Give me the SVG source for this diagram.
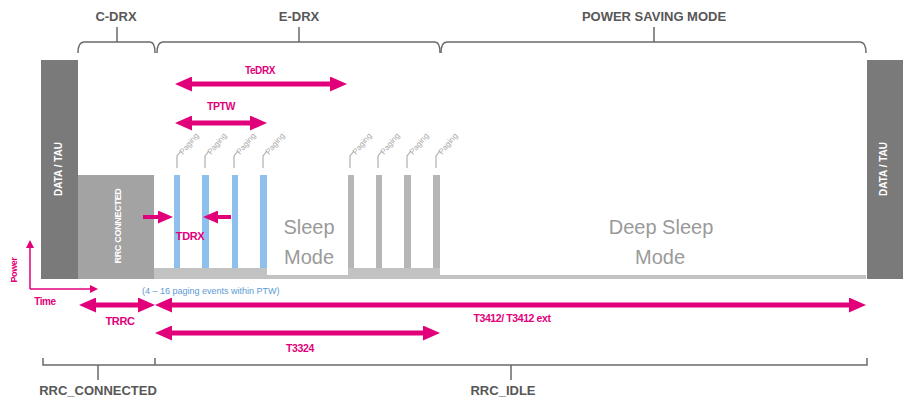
<svg xmlns="http://www.w3.org/2000/svg" width="912" height="412" viewBox="0 0 912 412">
<defs>
<style>
.hdr{font-family:"Liberation Sans",Arial,sans-serif;font-weight:bold;font-size:13px;fill:#575757;text-anchor:middle}
.brk{fill:none;stroke:#6a6a6a;stroke-width:1.5}
.mg{font-family:"Liberation Sans",Arial,sans-serif;font-weight:bold;fill:#e2007a;text-anchor:middle;letter-spacing:-0.4px}
.arr{stroke:#e2007a;stroke-width:5;fill:none;marker-end:url(#ah);marker-start:url(#ah)}
.arr1{stroke:#e2007a;stroke-width:4;fill:none;marker-end:url(#ah2)}
.bartxt{font-family:"Liberation Sans",Arial,sans-serif;font-weight:bold;fill:#ffffff;text-anchor:middle}
.pg{font-family:"Liberation Sans",Arial,sans-serif;font-size:8px;fill:#aaaaaa}
.ld{fill:none;stroke:#b0b0b0;stroke-width:1.2}
.mode{font-family:"Liberation Sans",Arial,sans-serif;font-size:20px;fill:#9a9a9a;text-anchor:middle}
</style>
<marker id="ah" viewBox="0 0 17 15" refX="7" refY="7.5" markerWidth="17" markerHeight="15" markerUnits="userSpaceOnUse" orient="auto-start-reverse">
<path d="M0,0 L17,7.5 L0,15 z" fill="#e2007a"/>
</marker>
<marker id="ah2" viewBox="0 0 15 13" refX="6" refY="6.5" markerWidth="15" markerHeight="13" markerUnits="userSpaceOnUse" orient="auto">
<path d="M0,0 L15,6.5 L0,13 z" fill="#e2007a"/>
</marker>
<marker id="ax" viewBox="0 0 8 8" refX="4" refY="4" markerWidth="8" markerHeight="8" markerUnits="userSpaceOnUse" orient="auto">
<path d="M0,0 L8,4 L0,8 z" fill="#e2007a"/>
</marker>
</defs>
<rect width="912" height="412" fill="#ffffff"/>

<!-- top brackets -->
<g id="phases">
<path class="brk" d="M78,53 Q78,42 84,42 H117 V27 M117,42 H150 Q155,42 155,53"/>
<path class="brk" d="M157,53 Q157,42 163,42 H299 V27 M299,42 H435 Q440,42 440,53"/>
<path class="brk" d="M441,53 Q441,42 447,42 H654 V27 M654,42 H860 Q866,42 866,53"/>
<text class="hdr" x="116" y="21">C-DRX</text>
<text class="hdr" x="299" y="21">E-DRX</text>
<text class="hdr" x="654" y="21">POWER SAVING MODE</text>
</g>

<!-- baseline -->
<g id="baseline">
<rect x="154" y="275" width="712" height="4" fill="#c2c2c2"/>
<rect x="154" y="268" width="113" height="11" fill="#c2c2c2"/>
<rect x="348" y="268" width="92" height="11" fill="#c2c2c2"/>
</g>

<g id="data-tau-left">
<rect x="41" y="60" width="37" height="219" fill="#7a7a7a"/>
<text class="bartxt" font-size="10" transform="translate(62,169) rotate(-90)">DATA / TAU</text>
</g>
<g id="rrc-connected">
<rect x="78" y="175" width="76" height="104" fill="#a3a3a3"/>
<text class="bartxt" font-size="9" letter-spacing="-0.3" transform="translate(121,226) rotate(-90)">RRC CONNECTED</text>
</g>
<g id="data-tau-right">
<rect x="867" y="60" width="36" height="219" fill="#7a7a7a"/>
<text class="bartxt" font-size="10" transform="translate(887,169) rotate(-90)">DATA / TAU</text>
</g>

<!-- paging bars -->
<g id="ptw-paging">
<rect x="174" y="175" width="6" height="93" fill="#8ec0ee"/>
<rect x="202" y="175" width="7" height="93" fill="#8ec0ee"/>
<rect x="232" y="175" width="6" height="93" fill="#8ec0ee"/>
<rect x="260" y="175" width="7" height="93" fill="#8ec0ee"/>
<path class="ld" d="M177,168 V156 L181,151 M205,168 V156 L209,151 M234,168 V156 L238,151 M263,168 V156 L267,151"/>
<text class="pg" transform="translate(183,155) rotate(-50)">Paging</text>
<text class="pg" transform="translate(211,155) rotate(-50)">Paging</text>
<text class="pg" transform="translate(240,155) rotate(-50)">Paging</text>
<text class="pg" transform="translate(269,155) rotate(-50)">Paging</text>
</g>
<g id="sleep-paging">
<rect x="348" y="175" width="6" height="93" fill="#b6b6b6"/>
<rect x="376" y="175" width="6" height="93" fill="#b6b6b6"/>
<rect x="404" y="175" width="7" height="93" fill="#b6b6b6"/>
<rect x="433" y="175" width="7" height="93" fill="#b6b6b6"/>
<path class="ld" d="M350,168 V156 L354,151 M378,168 V156 L382,151 M407,168 V156 L411,151 M436,168 V156 L440,151"/>
<text class="pg" transform="translate(356,155) rotate(-50)">Paging</text>
<text class="pg" transform="translate(384,155) rotate(-50)">Paging</text>
<text class="pg" transform="translate(413,155) rotate(-50)">Paging</text>
<text class="pg" transform="translate(442,155) rotate(-50)">Paging</text>
</g>

<g id="sleep-mode">
<text class="mode" x="309" y="234">Sleep</text>
<text class="mode" x="309" y="264">Mode</text>
</g>
<g id="deep-sleep-mode">
<text class="mode" x="661" y="234">Deep Sleep</text>
<text class="mode" x="660" y="264">Mode</text>
</g>

<!-- axes -->
<g id="axes">
<path d="M30,289 V244" stroke="#e2007a" stroke-width="1.5" fill="none" marker-end="url(#ax)"/>
<path d="M30,289 H94" stroke="#e2007a" stroke-width="1.5" fill="none" marker-end="url(#ax)"/>
<text class="mg" font-size="9" transform="translate(17,270) rotate(-90)">Power</text>
<text class="mg" font-size="10" x="45" y="305">Time</text>
</g>

<!-- connectors -->
<g id="connectors">
<path class="arr" d="M185,84 H337"/>
<path class="arr" d="M185,123 H257"/>
<path class="arr1" d="M143,217 H164"/>
<path class="arr1" d="M231,217 H212"/>
<path class="arr" d="M89,305 H145"/>
<path class="arr" d="M165,305 H856"/>
<path class="arr" d="M165,333 H430"/>
</g>

<g id="labels">
<text class="mg" font-size="10" x="260" y="74">TeDRX</text>
<text class="mg" font-size="10.5" x="221" y="110">TPTW</text>
<text class="mg" font-size="11" x="190" y="240">TDRX</text>
<text class="mg" font-size="11" x="120" y="325">TRRC</text>
<text class="mg" font-size="10.5" x="512" y="322">T3412/ T3412 ext</text>
<text class="mg" font-size="10.5" x="300" y="352">T3324</text>
<text x="142" y="294" font-family="Liberation Sans, Arial, sans-serif" font-size="9" fill="#5b9bd5">(4 – 16 paging events within PTW)</text>
</g>

<!-- bottom brackets -->
<g id="states">
<path class="brk" d="M43,358 V365 H98 V380 M98,365 H155 V358 M155,365 H511 V380 M511,365 H867 V358"/>
<text class="hdr" x="98" y="395" font-size="13.5">RRC_CONNECTED</text>
<text class="hdr" x="503" y="395" font-size="13.5">RRC_IDLE</text>
</g>
</svg>
